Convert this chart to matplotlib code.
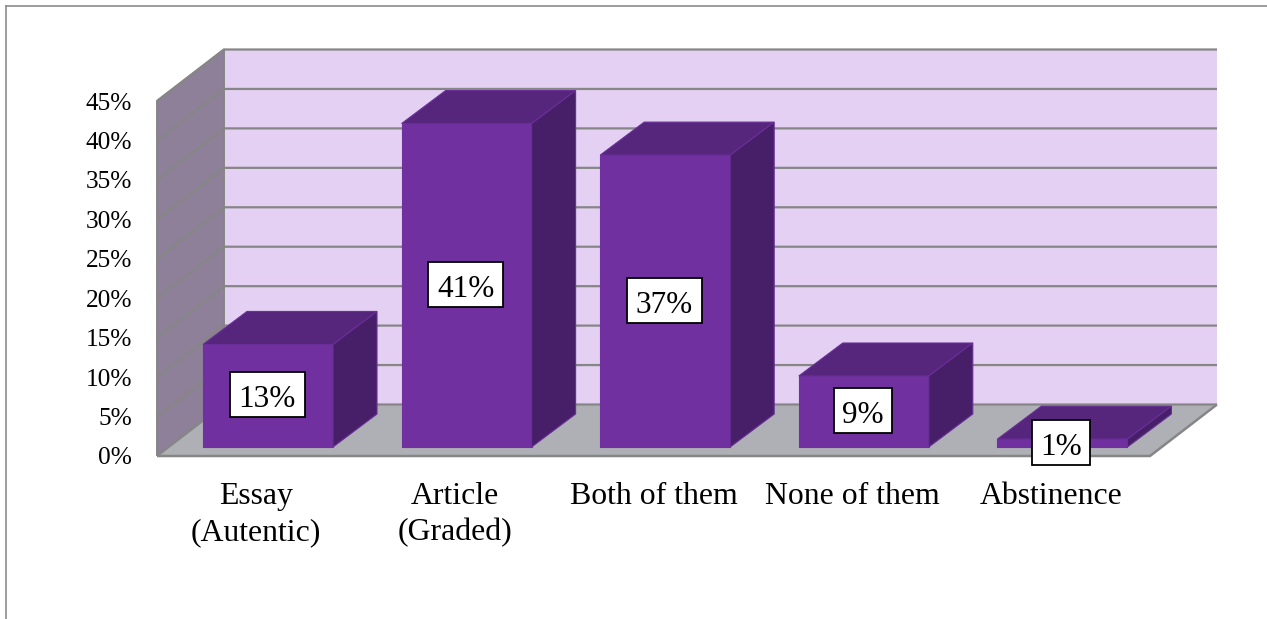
import matplotlib
matplotlib.use("Agg")
import matplotlib.pyplot as plt
from matplotlib.lines import Line2D
from matplotlib.patches import Rectangle

plt.rcParams['font.family'] = ['Liberation Serif', 'DejaVu Serif']

categories = ['Essay\n(Autentic)', 'Article\n(Graded)', 'Both of them', 'None of them', 'Abstinence']
values = [13, 41, 37, 9, 1]
value_labels = ['13%', '41%', '37%', '9%', '1%']
yticks = [0, 5, 10, 15, 20, 25, 30, 35, 40, 45]
ytick_labels = ['0%', '5%', '10%', '15%', '20%', '25%', '30%', '35%', '40%', '45%']

W, H = 1267, 619
# plot box in pixels (front plane of the fake 3d chart)
L, R, T, B = 157, 1150, 101, 456

fig = plt.figure(figsize=(W / 100, H / 100), dpi=100)
ax = fig.add_axes([L / W, 1 - B / H, (R - L) / W, (B - T) / H])
ax.set_xlim(0, 5)
ax.set_ylim(0, 45)
ax.set_frame_on(False)

# pixel sizes converted to data units
px_x = 5 / (R - L)
px_y = 45 / (B - T)
wall_dx = 67 * px_x
wall_dy = 51.5 * px_y
bar_dx = 44 * px_x
bar_dy = 33 * px_y
bar_w = 130 * px_x
bar_off = 46 * px_x
base = 9 * px_y

grid_c = '#868686'
# back wall, left wall, floor
ax.fill([wall_dx, 5 + wall_dx, 5 + wall_dx, wall_dx],
        [wall_dy, wall_dy, 45 + wall_dy, 45 + wall_dy], fc='#E3D0F2', ec='none', clip_on=False, zorder=1)
ax.fill([0, wall_dx, wall_dx, 0], [0, wall_dy, 45 + wall_dy, 45], fc='#8D8098', ec='none', clip_on=False, zorder=1)
ax.fill([0, 5, 5 + wall_dx, wall_dx], [0, 0, wall_dy, wall_dy], fc='#AEB0B5', ec='none', clip_on=False, zorder=1)

for y in yticks:
    ax.plot([0, wall_dx, 5 + wall_dx], [y, y + wall_dy, y + wall_dy], color=grid_c, lw=1.6,
            clip_on=False, zorder=2, solid_capstyle='butt')
ax.plot([0, 0, wall_dx, wall_dx], [0, 45, 45 + wall_dy, wall_dy], color=grid_c, lw=1.4,
        clip_on=False, zorder=2, solid_capstyle='butt')
ax.plot([0, 5, 5 + wall_dx], [0, 0, wall_dy], color=grid_c, lw=1.8,
        clip_on=False, zorder=2, solid_capstyle='butt')

# bars: front, top, side
for i, v in enumerate(values):
    x0 = i + bar_off
    x1 = x0 + bar_w
    y0 = base
    y1 = base + v
    ax.fill([x0, x1, x1, x0], [y0, y0, y1, y1], fc='#7030A0', ec='#7030A0', lw=0.8, clip_on=False, zorder=3)
    ax.fill([x0, x1, x1 + bar_dx, x0 + bar_dx], [y1, y1, y1 + bar_dy, y1 + bar_dy],
            fc='#55267C', ec='#6A2E98', lw=0.8, clip_on=False, zorder=3)
    ax.fill([x1, x1 + bar_dx, x1 + bar_dx, x1], [y0, y0 + bar_dy, y1 + bar_dy, y1],
            fc='#471F68', ec='#6A2E98', lw=0.8, clip_on=False, zorder=3)
    # value label box, drawn apart from the text so the digits sit in the middle
    cx = (x0 + x1) / 2 - 1 * px_x
    cy = (y0 + y1) / 2 + 1 * px_y
    box_w = (75 if len(value_labels[i]) == 3 else 58) * px_x
    box_h = 45 * px_y
    ax.add_patch(Rectangle((cx - box_w / 2, cy - box_h / 2), box_w, box_h, fc='white', ec='black',
                           lw=1.3, clip_on=False, zorder=5))
    ax.text(cx, cy - 5 * px_y, value_labels[i], ha='center', va='center', fontsize=22.5, zorder=6, clip_on=False)

ax.set_yticks(yticks)
ax.set_yticklabels(ytick_labels, fontsize=18.3)
ax.set_xticks([i + 0.5 for i in range(len(categories))])
ax.set_xticklabels(categories, fontsize=22.9, linespacing=1.34)
ax.tick_params(axis='y', length=0, pad=18)
ax.tick_params(axis='x', length=0, pad=18.5)

# frame of the pasted picture, only top and left show
fig.add_artist(Line2D([6 / W, 1], [1 - 6 / H, 1 - 6 / H], color='#8C8C8C', lw=1.2))
fig.add_artist(Line2D([6 / W, 6 / W], [0, 1 - 6 / H], color='#8C8C8C', lw=1.2))

fig.savefig('out.png', dpi=100)
